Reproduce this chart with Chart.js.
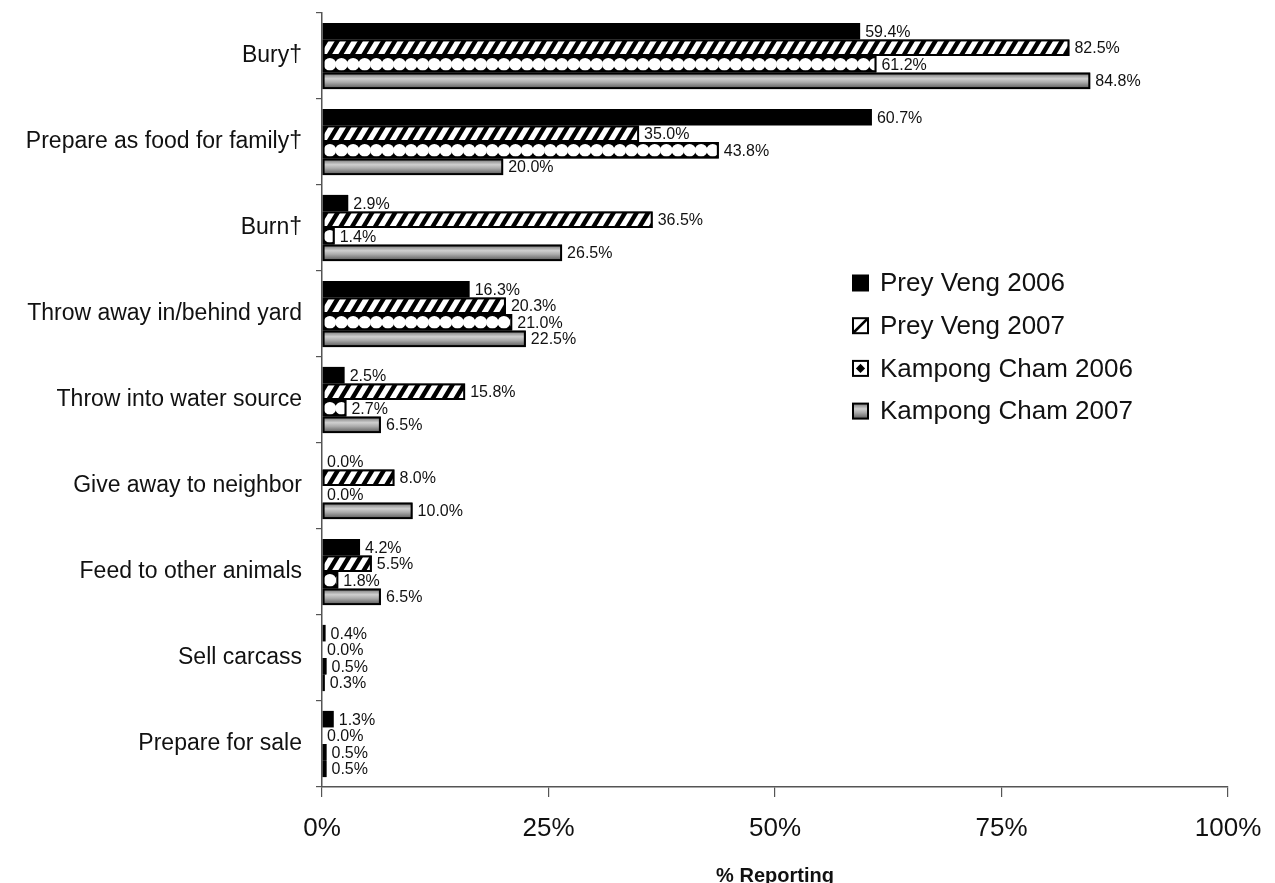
<!DOCTYPE html>
<html>
<head>
<meta charset="utf-8">
<script src="https://cdn.jsdelivr.net/npm/chart.js@4.4.1/dist/chart.umd.min.js"></script>
<style>
html,body{margin:0;padding:0;background:#fff;}
#wrap{width:1275px;height:883px;position:relative;}
</style>
</head>
<body>
<div id="wrap"><canvas id="c" width="1275" height="883"></canvas></div>
<script>
const categories = ["Bury\u2020","Prepare as food for family\u2020","Burn\u2020","Throw away in/behind yard","Throw into water source","Give away to neighbor","Feed to other animals","Sell carcass","Prepare for sale"];
const seriesNames = ["Prey Veng 2006","Prey Veng 2007","Kampong Cham 2006","Kampong Cham 2007"];
const preyVeng2006 = [59.4, 60.7, 2.9, 16.3, 2.5, 0.0, 4.2, 0.4, 1.3];
const preyVeng2007 = [82.5, 35.0, 36.5, 20.3, 15.8, 8.0, 5.5, 0.0, 0.0];
const kampongCham2006 = [61.2, 43.8, 1.4, 21.0, 2.7, 0.0, 1.8, 0.5, 0.5];
const kampongCham2007 = [84.8, 20.0, 26.5, 22.5, 6.5, 10.0, 6.5, 0.3, 0.5];
const xTicks = [0, 25, 50, 75, 100];

const FONT = "'Liberation Sans', Arial, sans-serif";

function barRect(el){
  const p = el.getProps(['x','y','base','height'], true);
  const l = Math.min(p.x, p.base), r = Math.max(p.x, p.base);
  return {l, r, t: p.y - p.height/2, b: p.y + p.height/2, y: p.y, x: p.x};
}

function drawStripes(ctx, l, t, r, b){
  ctx.save();
  ctx.beginPath(); ctx.rect(l, t, r-l, b-t); ctx.clip();
  ctx.fillStyle = '#fff'; ctx.fillRect(l, t, r-l, b-t);
  ctx.fillStyle = '#000';
  const h = b - t, step = 11.5, run = h*0.6, w = 5.2;
  for (let x0 = l - run - step; x0 < r + step; x0 += step){
    ctx.beginPath();
    ctx.moveTo(x0, b); ctx.lineTo(x0 + w, b);
    ctx.lineTo(x0 + w + run, t); ctx.lineTo(x0 + run, t);
    ctx.closePath(); ctx.fill();
  }
  ctx.restore();
}
function drawDots(ctx, l, t, r, b){
  ctx.save();
  ctx.beginPath(); ctx.rect(l, t, r-l, b-t); ctx.clip();
  ctx.fillStyle = '#000'; ctx.fillRect(l, t, r-l, b-t);
  ctx.fillStyle = '#fff';
  const cy = (t+b)/2, rad = (b-t)/2 - 1.0, step = 11.6;
  for (let cx = l + step/2 + 0.5; cx < r + step; cx += step){
    ctx.beginPath(); ctx.arc(cx, cy, rad, 0, Math.PI*2); ctx.fill();
  }
  ctx.restore();
}
function drawGrad(ctx, l, t, r, b){
  const g = ctx.createLinearGradient(0, t, 0, b);
  g.addColorStop(0, '#7a7a7a');
  g.addColorStop(0.35, '#cfcfcf');
  g.addColorStop(0.6, '#ababab');
  g.addColorStop(1, '#5e5e5e');
  ctx.fillStyle = g; ctx.fillRect(l, t, r-l, b-t);
}

const decorPlugin = {
  id: 'decor',
  afterDatasetDraw(chart, args){
    const i = args.index;
    if (i === 0) return;
    const ctx = chart.ctx;
    const meta = chart.getDatasetMeta(i);
    ctx.save();
    meta.data.forEach(el => {
      const R = barRect(el);
      if (R.r - R.l < 0.5) return;
      const bw = 2;
      const il = R.l + bw/2, ir = R.r - bw/2, it = R.t + bw/2, ib = R.b - bw/2;
      if (i === 1) drawStripes(ctx, il, it, ir, ib);
      if (i === 2) drawDots(ctx, il, it, ir, ib);
      if (i === 3) drawGrad(ctx, il, it, ir, ib);
      ctx.strokeStyle = '#000'; ctx.lineWidth = bw;
      ctx.strokeRect(R.l + bw/2, R.t + bw/2, Math.max(0, R.r - R.l - bw), R.b - R.t - bw);
    });
    ctx.restore();
  },
  afterDatasetsDraw(chart){
    const ctx = chart.ctx;
    ctx.save();
    ctx.font = "16px " + FONT;
    ctx.fillStyle = '#111';
    ctx.textAlign = 'left';
    ctx.textBaseline = 'middle';
    chart.data.datasets.forEach((ds, i) => {
      const meta = chart.getDatasetMeta(i);
      meta.data.forEach((el, j) => {
        const R = barRect(el);
        const v = ds.data[j];
        ctx.fillText(v.toFixed(1) + '%', R.r + 5, R.y + 1);
      });
    });
    // legend
    const ca = chart.chartArea;
    const lx = ca.left + 530, ly0 = 283, gap = 42.7, s = 17;
    ctx.font = "26px " + FONT;
    ctx.fillStyle = '#111';
    seriesNames.forEach((name, i) => {
      const cy = ly0 + i*gap;
      const t = cy - s/2, l = lx;
      if (i === 0){ ctx.fillStyle = '#000'; ctx.fillRect(l, t, s, s); }
      else {
        const bw = 2;
        const il = l + bw/2, it = t + bw/2, ir = l + s - bw/2, ib = t + s - bw/2;
        ctx.fillStyle = '#fff'; ctx.fillRect(il, it, ir-il, ib-it);
        if (i === 1){
          ctx.save(); ctx.beginPath(); ctx.rect(il, it, ir-il, ib-it); ctx.clip();
          ctx.strokeStyle = '#000'; ctx.lineWidth = 2.6;
          ctx.beginPath(); ctx.moveTo(il - 1, ib + 1); ctx.lineTo(ir + 1, it - 1); ctx.stroke();
          ctx.restore();
        } else if (i === 2){
          ctx.fillStyle = '#000';
          const cx = l + s/2, cyy = t + s/2, d = 4.6;
          ctx.beginPath(); ctx.moveTo(cx, cyy - d); ctx.lineTo(cx + d, cyy); ctx.lineTo(cx, cyy + d); ctx.lineTo(cx - d, cyy); ctx.closePath(); ctx.fill();
        } else {
          drawGrad(ctx, il, it, ir, ib);
        }
        ctx.strokeStyle = '#000'; ctx.lineWidth = bw;
        ctx.strokeRect(l + bw/2, t + bw/2, s - bw, s - bw);
      }
      ctx.fillStyle = '#111';
      ctx.fillText(name, lx + 28, cy + 1);
    });
    ctx.restore();
  }
};

const colors = ['#000000', '#ffffff', '#000000', '#ababab'];
const seriesData = [preyVeng2006, preyVeng2007, kampongCham2006, kampongCham2007];

new Chart(document.getElementById('c'), {
  type: 'bar',
  data: {
    labels: categories,
    datasets: seriesData.map((d, i) => ({
      label: seriesNames[i],
      data: d,
      backgroundColor: colors[i],
      borderColor: '#000',
      borderWidth: i === 0 ? 0 : 2,
      borderSkipped: false,
      categoryPercentage: 0.77,
      barPercentage: 1.0
    }))
  },
  options: {
    indexAxis: 'y',
    responsive: false,
    animation: false,
    devicePixelRatio: 1,
    layout: { padding: { top: 0, right: 47, left: 0, bottom: 0 } },
    plugins: { legend: { display: false }, tooltip: { enabled: false } },
    scales: {
      x: {
        min: 0, max: 100,
        afterBuildTicks(scale){ scale.ticks = xTicks.map(v => ({ value: v })); },
        afterFit(scale){ scale.height = 96; scale.paddingRight = 0; scale.paddingLeft = 0; },
        grid: { display: true, drawOnChartArea: false, tickLength: 10, color: '#555', lineWidth: 1.2 },
        border: { display: true, color: '#555', width: 1.5 },
        ticks: { callback: v => v + '%', color: '#111', padding: 16, font: { family: FONT, size: 26 } },
        title: { display: true, text: '% Reporting', color: '#111', padding: 0, font: { family: FONT, size: 20, weight: 'bold', lineHeight: 0.7 } }
      },
      y: {
        afterFit(scale){ scale.width = 322; scale.paddingTop = 13; },
        grid: { display: true, drawOnChartArea: false, offset: true, tickLength: 6, color: '#555', lineWidth: 1.2 },
        border: { display: true, color: '#555', width: 1.5 },
        ticks: { color: '#111', padding: 14, font: { family: FONT, size: 23 } }
      }
    }
  },
  plugins: [decorPlugin]
});
</script>
</body>
</html>
